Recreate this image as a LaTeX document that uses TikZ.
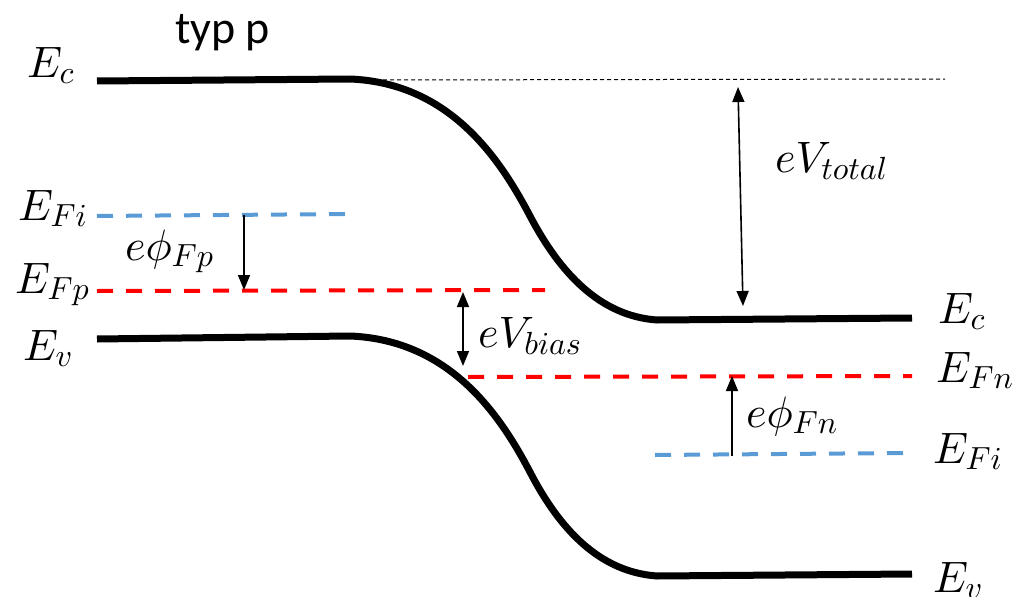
\documentclass[tikz,border=0pt]{standalone}
\usepackage{fontspec}
\newfontfamily\labelsans{Carlito}
\DeclareFontShape{OML}{cmm}{m}{it}{<->cmmi10}{}
\DeclareFontShape{OML}{cmm}{b}{it}{<->cmmib10}{}
\DeclareFontShape{OMS}{cmsy}{m}{n}{<->cmsy10}{}
\DeclareMathSizes{44}{44}{32}{24}
\usetikzlibrary{arrows.meta}
\definecolor{fermired}{RGB}{255,0,0}
\definecolor{intrblue}{RGB}{91,155,213}
\begin{document}
\begin{tikzpicture}[x=1pt,y=-1pt,
  band/.style={line width=7pt,black},
  fermi/.style={line width=4pt,fermired,dash pattern=on 16pt off 13pt},
  intrinsic/.style={line width=4pt,intrblue,dash pattern=on 16pt off 13pt},
  refline/.style={line width=1pt,black,dash pattern=on 4pt off 3pt},
  meas/.style={line width=1.6pt,black},
  tip/.style={-{Triangle[length=15pt,width=12pt]}},
  dtip/.style={{Triangle[length=15pt,width=12pt]}-{Triangle[length=15pt,width=12pt]}},
  lbl/.style={anchor=base west,inner sep=0pt,font=\fontsize{44}{52}\selectfont},
  ttl/.style={anchor=base west,inner sep=0pt,font=\labelsans\fontsize{46}{54}\selectfont}
]
\useasboundingbox (0,0) rectangle (1013,597);

% coordinates
\coordinate (EcL1) at (97,81);
\coordinate (EcL2) at (350,79);
\coordinate (EcM)  at (530,216);
\coordinate (EcR1) at (657,320);
\coordinate (EcR2) at (912,318);
\coordinate (EvL1) at (97,339);
\coordinate (EvL2) at (350,336);
\coordinate (EvM)  at (530,472);
\coordinate (EvR1) at (657,576);
\coordinate (EvR2) at (912,574);
\coordinate (FiL1) at (97,216);
\coordinate (FiL2) at (347,214);
\coordinate (FpL1) at (97,291);
\coordinate (FpL2) at (545,290);
\coordinate (FnR1) at (468,377);
\coordinate (FnR2) at (912,376);
\coordinate (FiR1) at (655,455);
\coordinate (FiR2) at (905,453);
\coordinate (RefA) at (383,80);
\coordinate (RefB) at (945,79);

% bands
\draw[band] (EcL1) -- (EcL2) .. controls (450,83) and (500,159) .. (EcM)
  .. controls (560,273) and (600,316) .. (EcR1) -- (EcR2);
\draw[band] (EvL1) -- (EvL2) .. controls (450,340) and (500,415) .. (EvM)
  .. controls (560,530) and (600,572) .. (EvR1) -- (EvR2);

% Fermi levels
\draw[intrinsic] (FiL1) -- (FiL2);
\draw[fermi] (FpL1) -- (FpL2);
\draw[fermi] (FnR1) -- (FnR2);
\draw[intrinsic] (FiR1) -- (FiR2);
\draw[refline] (RefA) -- (RefB);

% arrows
\coordinate (phiPa) at (244,215);
\coordinate (phiPb) at (244,290);
\draw[meas,tip] (phiPa) -- (phiPb);
\coordinate (biasA) at (463,292);
\coordinate (biasB) at (463,366);
\draw[meas,dtip] (biasA) -- (biasB);
\coordinate (totA) at (738,87);
\coordinate (totB) at (743,306);
\draw[meas,dtip] (totA) -- (totB);
\coordinate (phiNa) at (732,456);
\coordinate (phiNb) at (732,376);
\draw[meas,tip] (phiNa) -- (phiNb);

% labels
\node[ttl] (title) at (175,43) {typ p};
\node[lbl] (lEc) at (27,77) {$E_c$};
\node[lbl] (lFi) at (18,220) {$E_{Fi}$};
\node[lbl] (lphiP) at (125,260) {$e\phi_{Fp}$};
\node[lbl] (lFp) at (15,293) {$E_{Fp}$};
\node[lbl] (lEv) at (23,360) {$E_v$};
\node[lbl] (lbias) at (478,347) {$eV_{bias}$};
\node[lbl] (rEc) at (938,323) {$E_c$};
\node[lbl] (rFn) at (936,382) {$E_{Fn}$};
\node[lbl] (rFi) at (933,463) {$E_{Fi}$};
\node[lbl] (lphiN) at (746,427) {$e\phi_{Fn}$};
\node[lbl] (ltot) at (775,172) {$eV_{total}$};
\node[lbl] (rEv) at (933,592) {$E_v$};
\end{tikzpicture}
\end{document}
